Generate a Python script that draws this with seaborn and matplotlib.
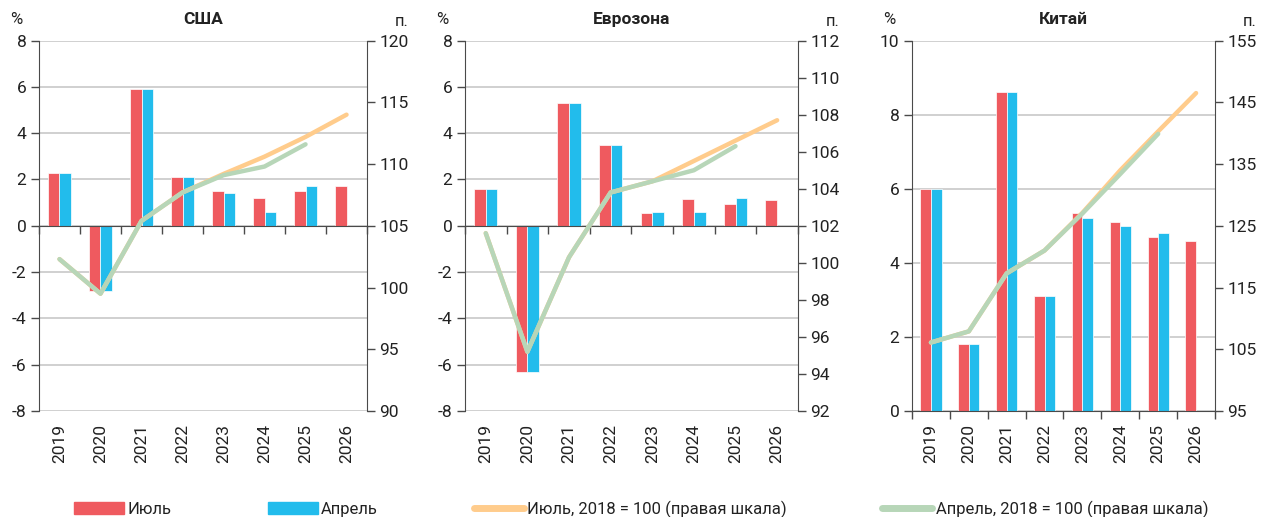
import numpy as np
import pandas as pd
import matplotlib
matplotlib.use("Agg")
import matplotlib.pyplot as plt
import seaborn as sns
from matplotlib.patches import Patch
from matplotlib.lines import Line2D

# ---- data ----
years = ['2019', '2020', '2021', '2022', '2023', '2024', '2025', '2026']

usa_july = [2.3, -2.8, 5.9, 2.1, 1.5, 1.2, 1.5, 1.7]
usa_april = [2.3, -2.8, 5.9, 2.1, 1.4, 0.6, 1.7, np.nan]
usa_idx_july = [102.3, 99.5, 105.4, 107.7, 109.2, 110.6, 112.2, 114.0]
usa_idx_april = [102.3, 99.5, 105.4, 107.7, 109.1, 109.8, 111.6, np.nan]

ez_july = [1.6, -6.3, 5.3, 3.5, 0.55, 1.15, 0.95, 1.1]
ez_april = [1.6, -6.3, 5.3, 3.5, 0.6, 0.6, 1.2, np.nan]
ez_idx_july = [101.6, 95.2, 100.3, 103.8, 104.4, 105.5, 106.6, 107.7]
ez_idx_april = [101.6, 95.2, 100.3, 103.8, 104.4, 105.0, 106.3, np.nan]

cn_july = [6.0, 1.8, 8.6, 3.1, 5.35, 5.1, 4.7, 4.6]
cn_april = [6.0, 1.8, 8.6, 3.1, 5.2, 5.0, 4.8, np.nan]
cn_idx_july = [106.1, 107.9, 117.3, 121.0, 127.1, 134.0, 140.3, 146.5]
cn_idx_april = [106.1, 107.9, 117.3, 121.0, 127.0, 133.4, 139.9, np.nan]

series_names = ['Июль', 'Апрель']
line_names = ['Июль, 2018 = 100 (правая шкала)', 'Апрель, 2018 = 100 (правая шкала)']

RED = '#EF5A5F'
BLUE = '#22BCEC'
ORANGE = '#FFCC8C'
GREEN = '#B7D6B8'
DARK = '#4a4a4a'
GRID = '#c8c8c8'

sns.set_style('white')
plt.rcParams['font.family'] = ['Roboto', 'DejaVu Sans']
plt.rcParams['axes.unicode_minus'] = False
plt.rcParams['text.color'] = '#222222'
plt.rcParams['xtick.color'] = DARK
plt.rcParams['ytick.color'] = DARK
plt.rcParams['xtick.labelcolor'] = '#222222'
plt.rcParams['ytick.labelcolor'] = '#222222'

panels = [
    dict(title='США', july=usa_july, april=usa_april, ij=usa_idx_july, ia=usa_idx_april,
         yticks=np.arange(-8, 9, 2), rticks=np.arange(90, 121, 5),
         rect=[0.0307, 0.205, 0.2583, 0.7165]),
    dict(title='Еврозона', july=ez_july, april=ez_april, ij=ez_idx_july, ia=ez_idx_april,
         yticks=np.arange(-8, 9, 2), rticks=np.arange(92, 113, 2),
         rect=[0.3661, 0.205, 0.2622, 0.7165]),
    dict(title='Китай', july=cn_july, april=cn_april, ij=cn_idx_july, ia=cn_idx_april,
         yticks=np.arange(0, 11, 2), rticks=np.arange(95, 156, 10),
         rect=[0.7181, 0.205, 0.2386, 0.7165]),
]

fig = plt.figure(figsize=(12.7, 5.17), dpi=100)

for p in panels:
    ax = fig.add_axes(p['rect'])
    df = pd.DataFrame({
        'year': years * 2,
        'series': [series_names[0]] * len(years) + [series_names[1]] * len(years),
        'value': list(p['july']) + list(p['april']),
    }).dropna()
    sns.barplot(data=df, x='year', y='value', hue='series', hue_order=series_names,
                order=years, palette=[RED, BLUE], saturation=1, width=0.56, errorbar=None,
                edgecolor='white', linewidth=0.5, legend=False, ax=ax)
    ax.set_xlim(-0.5, len(years) - 0.5)
    ax.set_ylim(p['yticks'][0], p['yticks'][-1])
    ax.set_yticks(p['yticks'])
    ax.set_xlabel('')
    ax.set_ylabel('')
    ax.set_axisbelow(True)
    ax.grid(axis='y', color=GRID, lw=1.2)
    ax.grid(axis='x', visible=False)
    for s in ['top', 'right']:
        ax.spines[s].set_visible(False)
    ax.spines['left'].set_color(DARK)
    ax.spines['bottom'].set_color(DARK)
    ax.spines['bottom'].set_position(('data', 0))
    ax.tick_params(axis='y', left=True, length=6, width=1, labelsize=12.5, pad=3)
    ax.set_xticks(np.arange(-0.5, len(years), 1))
    ax.set_xticklabels([])
    ax.tick_params(axis='x', bottom=True, length=6, width=1, direction='out')

    sec = ax.secondary_xaxis('bottom')
    sec.set_xticks(np.arange(len(years)))
    sec.set_xticklabels(years, rotation=90, fontsize=12.5)
    sec.tick_params(length=0, pad=9)
    sec.spines['bottom'].set_visible(False)

    rax = ax.twinx()
    xs = np.arange(len(years))
    sns.lineplot(x=xs, y=p['ij'], ax=rax, color=ORANGE, lw=3.2, solid_capstyle='round')
    sns.lineplot(x=xs, y=p['ia'], ax=rax, color=GREEN, lw=3.2, solid_capstyle='round')
    rax.set_ylim(p['rticks'][0], p['rticks'][-1])
    rax.set_yticks(p['rticks'])
    rax.set_ylabel('')
    for s in ['top', 'left', 'bottom']:
        rax.spines[s].set_visible(False)
    rax.spines['right'].set_color(DARK)
    rax.tick_params(axis='y', right=True, length=6, width=1, labelsize=12.5, pad=3)
    rax.set_xlim(-0.5, len(years) - 0.5)

    ax.set_title(p['title'], fontsize=12.5, fontweight='bold', pad=12)
    ax.annotate('%', xy=(0, 1), xycoords='axes fraction', xytext=(-12, 15),
                textcoords='offset points', ha='right', va='center', fontsize=12)
    rax.annotate('п.', xy=(1, 1), xycoords='axes fraction', xytext=(20, 14),
                 textcoords='offset points', ha='left', va='center', fontsize=12)

handles = [Patch(color=RED), Patch(color=BLUE),
           Line2D([], [], color=ORANGE, lw=5, solid_capstyle='round'),
           Line2D([], [], color=GREEN, lw=5, solid_capstyle='round')]
labels = series_names + line_names
fig.legend(handles, labels, loc='lower center', bbox_to_anchor=(0.505, -0.03), ncol=4,
           frameon=False, fontsize=12, handlelength=3.0, handletextpad=0.2,
           columnspacing=5.75)

fig.savefig('out.png', dpi=100)
